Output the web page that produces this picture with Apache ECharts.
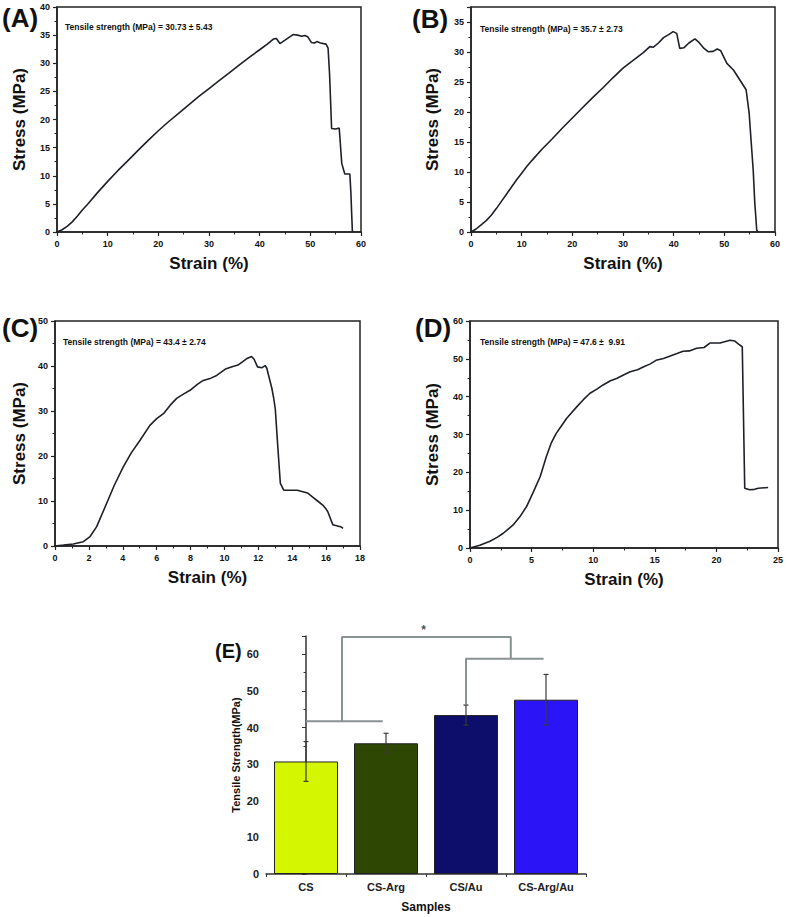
<!DOCTYPE html>
<html><head><meta charset="utf-8">
<script src="https://cdn.jsdelivr.net/npm/echarts@6/dist/echarts.min.js"></script>
<style>html,body{margin:0;padding:0;background:#fff}#c{width:787px;height:917px}</style>
</head><body><div id="c"></div>
<script>
// ---- Panel A ----
const strainA=[0,1,2,3,4,5,6,8,10,12,14,16,18,20,22,24,26,28,30,32,34,36,38,40,41.5,42.7,43.3,44.0,45.0,46.6,47.5,48.3,48.9,49.5,50.2,50.8,51.3,52.0,53.1,53.5,53.8,54.2,55.0,55.7,55.9,56.2,56.8,57.8,58.0,58.3];
const stressA=[0,0.4,1.0,1.8,2.8,3.9,4.9,7.0,9.0,10.9,12.7,14.5,16.3,18.0,19.6,21.1,22.6,24.1,25.5,26.9,28.3,29.7,31.1,32.4,33.4,34.3,34.4,33.5,34.1,35.1,35.0,34.8,34.95,34.7,33.7,33.6,33.85,33.6,33.4,32.7,28.0,18.4,18.3,18.5,16.0,12.2,10.3,10.3,7.0,0];
// ---- Panel B ----
const strainB=[0,1,2,3,4,5,6,7,8,9,10,11,12,14,16,18,20,22,24,26,28,30,32,34,35.3,36,37,38,39,39.9,40.6,41.2,42,43,44.2,45,46,46.8,47.8,48.6,49.3,50.5,51.8,53.1,54.3,54.9,55.3,55.7,56.0,56.4,56.6];
const stressB=[0,0.5,1.2,1.9,2.8,3.9,5.1,6.3,7.5,8.7,9.8,10.9,11.9,13.8,15.5,17.3,19.0,20.7,22.4,24.0,25.7,27.3,28.6,29.9,30.9,30.8,31.5,32.4,32.9,33.4,33.1,30.6,30.7,31.5,32.2,31.6,30.6,30.05,30.1,30.5,30.2,28.1,27.0,25.3,23.7,19.8,15.0,10.3,5.0,0.3,0];
// ---- Panel C ----
const strainC=[0,0.5,1.08,1.67,2.07,2.46,3.05,3.5,4.03,4.5,5.02,5.6,6.0,6.4,6.8,7.18,7.6,7.97,8.4,8.75,9.2,9.54,10.1,10.5,10.8,11.3,11.6,11.75,11.95,12.2,12.4,12.5,12.8,12.9,13.0,13.15,13.3,13.5,14.3,14.9,15.3,15.5,15.8,16.0,16.1,16.4,16.9,17.0];
const stressC=[0,0.2,0.44,0.96,2.1,4.3,9.5,13.5,17.6,20.7,23.5,26.8,28.3,29.4,31.3,32.8,33.8,34.6,35.9,36.8,37.3,37.9,39.4,39.9,40.2,41.6,42.1,41.5,39.8,39.6,40.1,39.5,35.0,33.0,30.5,22.0,13.9,12.4,12.4,11.8,10.6,10.0,9.1,8.2,7.6,4.7,4.2,3.9];
// ---- Panel D ----
const strainD=[0,0.8,1.62,2.2,2.7,3.1,3.5,4.06,4.6,5.1,5.7,6.2,6.6,7.0,7.4,7.85,8.66,9.2,9.74,10.3,10.8,11.4,11.9,12.5,13.0,13.6,14.1,14.6,15.1,15.7,16.2,16.8,17.3,17.8,18.4,19.0,19.5,20.3,21.1,21.5,21.8,22.1,22.3,22.7,23.1,23.4,24.2];
const stressD=[0,0.7,1.8,2.8,3.9,5.0,6.1,8.3,11.0,14.5,18.9,24.2,27.8,30.3,32.2,34.3,37.3,39.2,40.9,42.0,43.1,44.2,44.8,45.8,46.6,47.1,47.9,48.6,49.6,50.1,50.7,51.4,52.0,52.1,52.8,53.0,54.2,54.2,54.9,54.7,53.9,53.2,15.8,15.4,15.5,15.8,16.0];
// ---- Panel E ----
const categories=['CS','CS-Arg','CS/Au','CS-Arg/Au'];
const tensile=[30.73,35.7,43.4,47.6];
const tensileErr=[5.43,2.73,2.74,6.9];
const barColors=['#d4f700','#2e4703','#0d0d6b','#2b14f5'];
const bracketLow=[[0,41.7],[0.96,41.7]];
const bracketStem=[[0.45,41.7],[0.45,64.7],[2.56,64.7],[2.56,58.8]];
const bracketHigh=[[2.0,46.3],[2.0,58.8],[2.97,58.8]];
const starMark=[[1.47,66.6]];
const annotations=['Tensile strength (MPa) = 30.73 \u00b1 5.43','Tensile strength (MPa) = 35.7 \u00b1 2.73','Tensile strength (MPa) = 43.4 \u00b1 2.74','Tensile strength (MPa) = 47.6 \u00b1  9.91'];

const FF='"Liberation Sans", Arial, Helvetica, sans-serif';
const zip=(a,b)=>a.slice(0,Math.min(a.length,b.length)).map((v,i)=>[v,b[i]]);
const DARK='#222';

function valAxis(gi,min,max,interval,name,gap,extra){
  return Object.assign({
    type:'value',gridIndex:gi,min:min,max:max,interval:interval,
    name:name,nameLocation:'middle',nameGap:gap,
    nameTextStyle:{fontFamily:FF,fontWeight:'bold',fontSize:17,color:'#111'},
    axisLine:{show:true,onZero:false,lineStyle:{color:DARK,width:1.5}},
    axisTick:{show:true,inside:false,length:4,lineStyle:{color:DARK,width:1.2}},
    minorTick:{show:true,splitNumber:2,length:2.5,lineStyle:{color:DARK,width:1}},
    axisLabel:{fontFamily:FF,fontWeight:'bold',fontSize:9,color:'#111',margin:7,showMaxLabel:true},
    splitLine:{show:false}
  },extra||{});
}

const grids=[
  {left:57,top:7,width:304,height:225},
  {left:471,top:7,width:304,height:225},
  {left:55,top:321,width:305,height:225},
  {left:470,top:321,width:308,height:227},
  {left:266,top:636,width:320,height:238}
].map((g,i)=>Object.assign(g,{show:i<4,borderColor:DARK,borderWidth:1.5,backgroundColor:'rgba(0,0,0,0)',containLabel:false}));

const xAxes=[
  valAxis(0,0,60,10,'Strain (%)',23),
  valAxis(1,0,60,10,'Strain (%)',23),
  valAxis(2,0,18,2,'Strain (%)',23),
  valAxis(3,0,25,5,'Strain (%)',23),
  {type:'category',gridIndex:4,data:categories,
   name:'Samples',nameLocation:'middle',nameGap:27,
   nameTextStyle:{fontFamily:FF,fontWeight:'bold',fontSize:12,color:'#111'},
   axisLine:{lineStyle:{color:'#333',width:1.5}},
   axisTick:{show:true,length:3,lineStyle:{color:'#333'}},
   axisLabel:{fontFamily:FF,fontWeight:'bold',fontSize:11,color:'#222',margin:7}},
  {type:'value',gridIndex:4,min:-0.5,max:3.5,show:false}
];
const yAxes=[
  valAxis(0,0,40,5,'Stress (MPa)',29.5),
  valAxis(1,0,37.5,5,'Stress (MPa)',30,{axisLabel:{fontFamily:FF,fontWeight:'bold',fontSize:9,color:'#111',margin:7,showMaxLabel:false}}),
  valAxis(2,0,50,10,'Stress (MPa)',27.5),
  valAxis(3,0,60,10,'Stress (MPa)',29),
  {type:'value',gridIndex:4,min:0,max:65,interval:10,
   name:'Tensile Strength(MPa)',nameLocation:'middle',nameGap:25,
   nameTextStyle:{fontFamily:FF,fontWeight:'bold',fontSize:11,color:'#111'},
   axisLine:{show:true,lineStyle:{color:'#333',width:1.5}},
   axisTick:{show:true,length:4,lineStyle:{color:'#333'}},
   minorTick:{show:true,splitNumber:2,length:2.5,lineStyle:{color:'#333'}},
   axisLabel:{fontFamily:FF,fontWeight:'bold',fontSize:11,color:'#222',margin:7,showMaxLabel:false},
   splitLine:{show:false}}
];

function curve(i,x,y){
  return {type:'line',xAxisIndex:i,yAxisIndex:i,data:zip(x,y),showSymbol:false,symbol:'none',
    lineStyle:{color:'#1d2127',width:1.6},silent:true,animation:false};
}
function bracket(d){
  return {type:'line',xAxisIndex:5,yAxisIndex:4,data:d,showSymbol:false,symbol:'none',clip:false,z:6,
    lineStyle:{color:'#8a9293',width:2},silent:true,animation:false};
}

const series=[
  curve(0,strainA,stressA),curve(1,strainB,stressB),curve(2,strainC,stressC),curve(3,strainD,stressD),
  {type:'bar',xAxisIndex:4,yAxisIndex:4,barWidth:'80%',animation:false,z:2,
   data:tensile.map((v,i)=>({value:v,itemStyle:{color:barColors[i],borderColor:'#222',borderWidth:1}}))},
  {type:'custom',xAxisIndex:4,yAxisIndex:4,animation:false,silent:true,z:8,clip:false,
   data:tensile.map((v,i)=>[i,v,tensileErr[i]]),
   renderItem:function(params,api){
     const i=api.value(0),v=api.value(1),e=api.value(2);
     const t=api.coord([i,v+e]),b=api.coord([i,v-e]);const hw=2.5;
     const st={stroke:'#3a3a3a',lineWidth:1.2};
     return {type:'group',children:[
       {type:'line',shape:{x1:t[0],y1:t[1],x2:b[0],y2:b[1]},style:st},
       {type:'line',shape:{x1:t[0]-hw,y1:t[1],x2:t[0]+hw,y2:t[1]},style:st},
       {type:'line',shape:{x1:b[0]-hw,y1:b[1],x2:b[0]+hw,y2:b[1]},style:st}
     ]};
   }},
  bracket(bracketLow),bracket(bracketStem),bracket(bracketHigh),
  {type:'scatter',xAxisIndex:5,yAxisIndex:4,data:starMark,symbolSize:0,clip:false,silent:true,animation:false,z:8,
   label:{show:true,formatter:'*',position:'inside',fontFamily:FF,fontWeight:'bold',fontSize:12,color:'#222'}}
];

const panelLabels=[['(A)',2,5,26],['(B)',412,6,26],['(C)',2,315,26],['(D)',415,315,26],['(E)',215,641,20]];
const annPos=[[65,27],[480,29],[63,342],[480,342]];
const graphic=[];
panelLabels.forEach(p=>graphic.push({type:'text',x:p[1],y:p[2],silent:true,
  style:{text:p[0],font:'bold '+p[3]+'px '+FF,fill:'#111',verticalAlign:'top'}}));
annotations.forEach((t,i)=>graphic.push({type:'text',x:annPos[i][0],y:annPos[i][1],silent:true,
  style:{text:t,font:'bold 8.5px '+FF,fill:'#111',verticalAlign:'middle'}}));

const chart=echarts.init(document.getElementById('c'),null,{renderer:'svg',width:787,height:917});
chart.setOption({animation:false,backgroundColor:'#fff',grid:grids,xAxis:xAxes,yAxis:yAxes,series:series,graphic:graphic});
</script></body></html>
